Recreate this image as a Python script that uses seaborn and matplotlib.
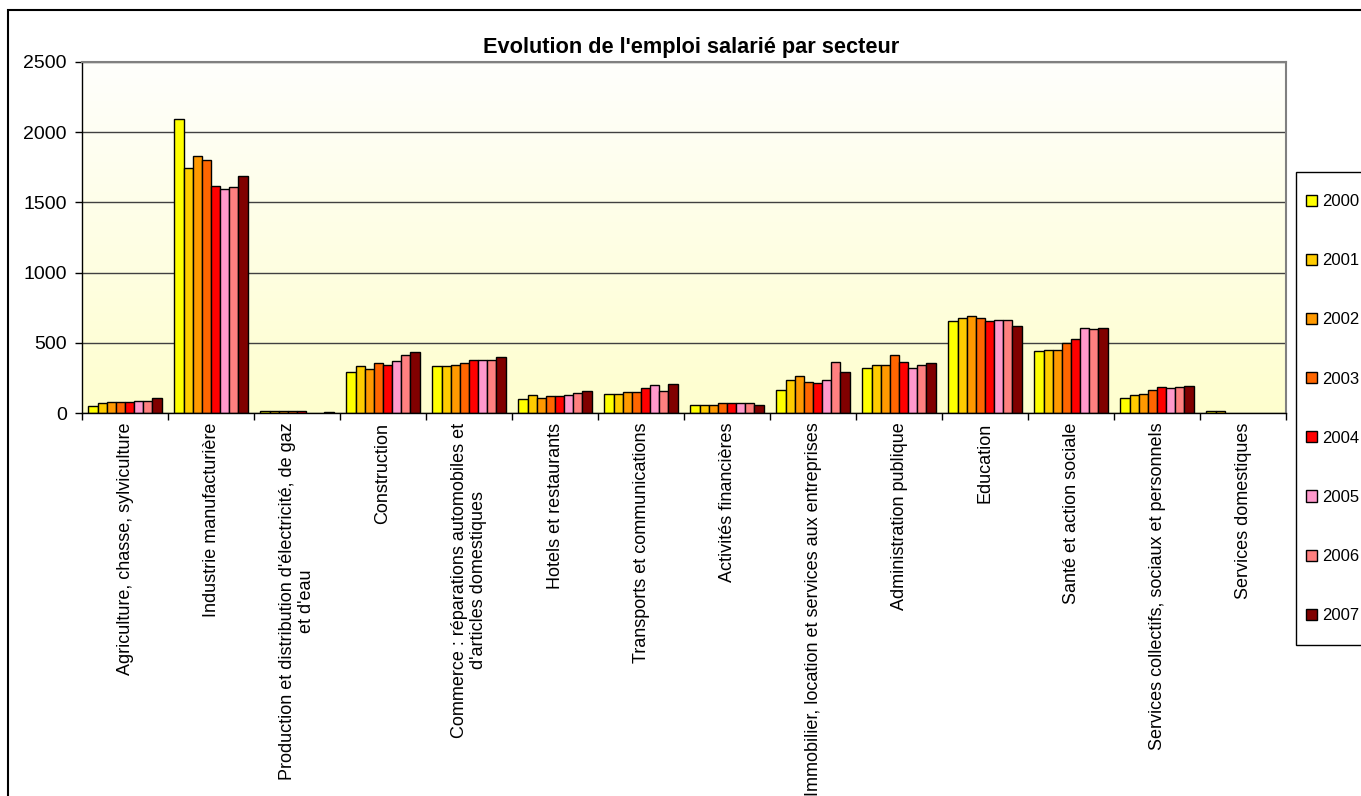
import matplotlib.pyplot as plt
import matplotlib.patches as mpatches
import numpy as np
import pandas as pd
import seaborn as sns


# Secteurs (axe des x) et années (séries)
secteurs = [
    "Agriculture, chasse, sylviculture",
    "Industrie manufacturière",
    "Production et distribution d'électricité, de gaz\net d'eau",
    "Construction",
    "Commerce : réparations automobiles et\nd'articles domestiques",
    "Hotels et restaurants",
    "Transports et communications",
    "Activités financières",
    "Immobilier, location et services aux entreprises",
    "Administration publique",
    "Education",
    "Santé et action sociale",
    "Services collectifs, sociaux et personnels",
    "Services domestiques",
]
annees = ["2000", "2001", "2002", "2003", "2004", "2005", "2006", "2007"]

# une liste par année, dans l'ordre des secteurs (nan = pas de barre)
nan = np.nan
emploi_2000 = [50, 2095, 12, 295, 333, 100, 138, 57, 166, 322, 657, 442, 106, 17]
emploi_2001 = [70, 1745, 12, 336, 333, 129, 138, 57, 233, 343, 676, 449, 125, 17]
emploi_2002 = [76, 1830, 12, 316, 345, 109, 150, 57, 262, 343, 688, 449, 135, nan]
emploi_2003 = [76, 1802, 12, 357, 357, 119, 150, 68, 223, 410, 676, 500, 166, nan]
emploi_2004 = [76, 1618, 12, 345, 381, 119, 179, 68, 214, 363, 653, 528, 183, nan]
emploi_2005 = [88, 1592, nan, 367, 381, 129, 197, 68, 233, 322, 665, 605, 176, nan]
emploi_2006 = [88, 1611, nan, 412, 381, 140, 159, 68, 363, 343, 665, 596, 183, nan]
emploi_2007 = [105, 1686, 10, 434, 402, 159, 207, 55, 293, 353, 617, 605, 194, nan]

couleurs = ["#FFFF00", "#FFCC00", "#FF9900", "#FF6600",
            "#FF0000", "#FF99CC", "#FF8080", "#800000"]

series = [emploi_2000, emploi_2001, emploi_2002, emploi_2003,
          emploi_2004, emploi_2005, emploi_2006, emploi_2007]

rows = []
for annee, valeurs in zip(annees, series):
    for secteur, v in zip(secteurs, valeurs):
        rows.append({"Secteur": secteur, "Année": annee, "Emploi": v})
df = pd.DataFrame(rows).dropna()

sns.set_theme(style="white")
plt.rcParams['font.family'] = ['Liberation Sans', 'DejaVu Sans']
plt.rcParams['text.color'] = 'black'
plt.rcParams['xtick.color'] = 'black'
plt.rcParams['ytick.color'] = 'black'
plt.rcParams['axes.labelcolor'] = 'black'

fig = plt.figure(figsize=(13.61, 7.96), dpi=100)
ax = fig.add_axes([82 / 1361, 1 - 413 / 796, (1286 - 82) / 1361, (413 - 62) / 796])

# fond dégradé blanc -> jaune pâle
grad = np.linspace(0, 1, 256).reshape(-1, 1)
top = np.array([254, 254, 252]) / 255
bottom = np.array([255, 255, 206]) / 255
img = top + (bottom - top) * grad[:, :, None]
ax.imshow(img, extent=(0, 1, 0, 1), transform=ax.transAxes,
          aspect='auto', zorder=-10)

sns.barplot(data=df, x="Secteur", y="Emploi", hue="Année",
            order=secteurs, hue_order=annees, palette=couleurs,
            width=0.85, gap=0, edgecolor="black", linewidth=1,
            saturation=1, errorbar=None, ax=ax)

ax.set_xlim(-0.5, len(secteurs) - 0.5)
ax.set_ylim(0, 2500)
ax.set_yticks(range(0, 2501, 500))
ax.set_axisbelow(True)
ax.yaxis.grid(True, color="#404040", linewidth=1)
ax.xaxis.grid(False)
ax.set_xlabel("")
ax.set_ylabel("")

# ticks aux frontières des groupes, étiquettes au centre
ax.set_xticks(np.arange(len(secteurs)))
ax.set_xticklabels(secteurs, rotation=90, fontsize=13, va="top", ha="center")
ax.set_xticks(np.arange(-0.5, len(secteurs)), minor=True)
ax.tick_params(axis="x", which="major", length=0, pad=7)
ax.tick_params(axis="x", which="minor", length=5, width=1, color="black",
               direction="out", bottom=True)
ax.tick_params(axis="y", length=5, width=1, color="black", direction="out",
               left=True, labelsize=14, pad=6)

for side in ["left", "bottom"]:
    ax.spines[side].set_color("black")
    ax.spines[side].set_linewidth(1)
for side in ["top", "right"]:
    ax.spines[side].set_color("#808080")
    ax.spines[side].set_linewidth(1.5)

# légende sans cadre, le cadre est dessiné à part (derrière)
leg = ax.legend(loc="upper left", bbox_to_anchor=(1306 / 1361, 1 - 194 / 796),
                bbox_transform=fig.transFigure, borderaxespad=0, borderpad=0,
                frameon=False, fontsize=12, labelspacing=2.65,
                handlelength=0.65, handleheight=0.65, handletextpad=0.3,
                title=None)

fig.patches.append(mpatches.Rectangle((1296 / 1361, 1 - 645 / 796), 0.1,
                                      (645 - 172) / 796,
                                      transform=fig.transFigure, fill=True,
                                      facecolor="white", edgecolor="black",
                                      linewidth=1, zorder=-1))

fig.text(691.5 / 1361, 1 - 47 / 796, "Evolution de l'emploi salarié par secteur",
         ha="center", va="center", fontsize=15.7, fontweight="bold")

# cadre extérieur du graphique
fig.patches.append(mpatches.Rectangle((8 / 1361, -0.1), 1.1, 1 - 10 / 796 + 0.1,
                                      transform=fig.transFigure, fill=False,
                                      edgecolor="black", linewidth=1.5,
                                      zorder=-1))

fig.savefig("out.png", dpi=100)
